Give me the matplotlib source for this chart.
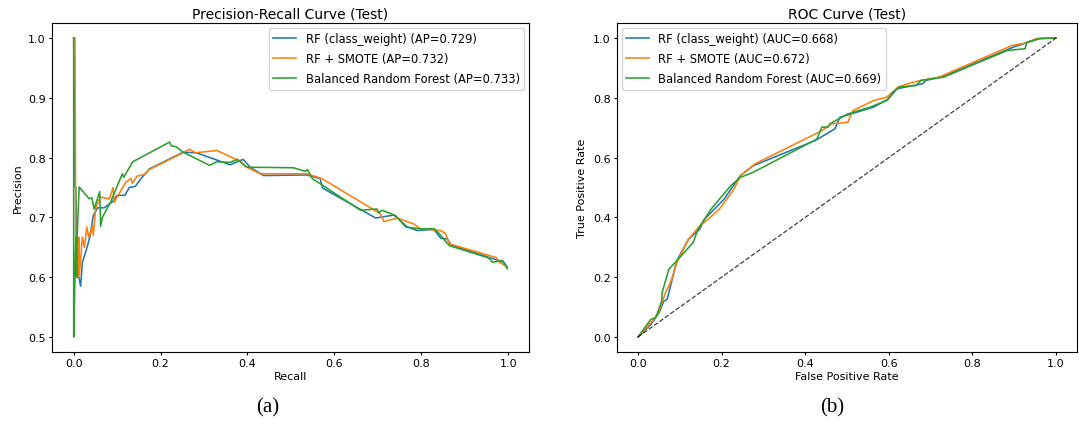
import numpy as np
import matplotlib
matplotlib.use("Agg")
import matplotlib.pyplot as plt

# Precision-recall points (recall, precision) for each model
pr_rf_recall = [0.0, 0.003, 0.005, 0.008, 0.012, 0.016, 0.020, 0.025, 0.032, 0.038, 0.045, 0.055,
                0.070, 0.089, 0.100, 0.118, 0.128, 0.142, 0.155, 0.174, 0.252, 0.283, 0.321, 0.360,
                0.390, 0.406, 0.437, 0.536, 0.567, 0.573, 0.695, 0.737, 0.768, 0.791, 0.829, 0.845,
                0.860, 0.868, 0.990, 0.998]
pr_rf_prec = [1.0, 0.75, 0.75, 0.60, 0.60, 0.585, 0.625, 0.636, 0.653, 0.670, 0.703, 0.716,
              0.716, 0.726, 0.737, 0.737, 0.750, 0.752, 0.765, 0.781, 0.809, 0.808, 0.798, 0.788,
              0.797, 0.784, 0.770, 0.771, 0.765, 0.749, 0.699, 0.704, 0.684, 0.678, 0.680, 0.665,
              0.664, 0.654, 0.625, 0.617]

pr_smote_recall = [0.0, 0.003, 0.005, 0.010, 0.0125, 0.013, 0.020, 0.025, 0.030, 0.035, 0.043,
                   0.045, 0.051, 0.062, 0.082, 0.091, 0.093, 0.120, 0.132, 0.135, 0.146, 0.163,
                   0.174, 0.252, 0.267, 0.280, 0.306, 0.329, 0.383, 0.398, 0.429, 0.536, 0.571,
                   0.706, 0.714, 0.745, 0.783, 0.798, 0.845, 0.856, 0.864, 0.972, 0.980, 0.998]
pr_smote_prec = [1.0, 1.0, 0.62, 0.60, 0.667, 0.603, 0.667, 0.650, 0.684, 0.667, 0.686,
                 0.670, 0.717, 0.734, 0.731, 0.750, 0.725, 0.759, 0.765, 0.757, 0.769, 0.772,
                 0.780, 0.808, 0.814, 0.808, 0.810, 0.812, 0.794, 0.784, 0.773, 0.773, 0.765,
                 0.706, 0.693, 0.699, 0.689, 0.681, 0.678, 0.673, 0.656, 0.633, 0.625, 0.617]

pr_brf_recall = [0.0, 0.0, 0.003, 0.005, 0.007, 0.008, 0.0125, 0.036, 0.042, 0.047, 0.060, 0.062,
                 0.066, 0.085, 0.112, 0.115, 0.136, 0.221, 0.224, 0.236, 0.252, 0.313, 0.329,
                 0.360, 0.377, 0.398, 0.506, 0.533, 0.538, 0.549, 0.660, 0.698, 0.702, 0.710,
                 0.741, 0.764, 0.798, 0.829, 0.840, 0.864, 0.956, 0.964, 0.987, 0.998]
pr_brf_prec = [1.0, 0.50, 0.60, 0.667, 0.60, 0.667, 0.751, 0.731, 0.733, 0.714, 0.743, 0.685,
               0.700, 0.726, 0.773, 0.767, 0.793, 0.826, 0.820, 0.818, 0.809, 0.787, 0.793,
               0.792, 0.797, 0.784, 0.783, 0.777, 0.780, 0.765, 0.712, 0.714, 0.708, 0.712,
               0.703, 0.684, 0.681, 0.681, 0.674, 0.653, 0.632, 0.625, 0.628, 0.614]

# ROC points (false positive rate, true positive rate)
roc_rf_fpr = [0.0, 0.031, 0.051, 0.062, 0.070, 0.075, 0.093, 0.121, 0.148, 0.159, 0.191, 0.206,
              0.245, 0.276, 0.424, 0.471, 0.483, 0.510, 0.564, 0.599, 0.619, 0.681, 0.689,
              0.731, 0.899, 0.961, 1.0]
roc_rf_tpr = [0.0, 0.042, 0.082, 0.120, 0.126, 0.154, 0.255, 0.327, 0.361, 0.394, 0.439, 0.461,
              0.540, 0.573, 0.657, 0.696, 0.735, 0.746, 0.769, 0.796, 0.830, 0.847, 0.858,
              0.872, 0.970, 0.998, 1.0]

roc_smote_fpr = [0.0, 0.035, 0.051, 0.066, 0.078, 0.093, 0.121, 0.148, 0.168, 0.195, 0.230, 0.245,
                 0.280, 0.440, 0.463, 0.502, 0.514, 0.564, 0.595, 0.622, 0.658, 0.677, 0.720,
                 0.895, 0.930, 0.953, 1.0]
roc_smote_tpr = [0.0, 0.054, 0.087, 0.149, 0.182, 0.249, 0.327, 0.372, 0.394, 0.428, 0.495, 0.540,
                 0.579, 0.690, 0.713, 0.718, 0.757, 0.791, 0.802, 0.836, 0.852, 0.858, 0.869,
                 0.975, 0.984, 0.998, 1.0]

roc_brf_fpr = [0.0, 0.031, 0.043, 0.057, 0.058, 0.074, 0.093, 0.132, 0.144, 0.175, 0.222, 0.245,
               0.276, 0.428, 0.440, 0.455, 0.459, 0.502, 0.556, 0.595, 0.611, 0.626, 0.665,
               0.677, 0.731, 0.883, 0.926, 0.930, 0.961, 1.0]
roc_brf_tpr = [0.0, 0.059, 0.065, 0.121, 0.149, 0.227, 0.255, 0.316, 0.361, 0.428, 0.506, 0.534,
               0.551, 0.662, 0.702, 0.702, 0.713, 0.746, 0.769, 0.791, 0.819, 0.836, 0.841,
               0.858, 0.869, 0.958, 0.964, 0.986, 0.998, 1.0]

models = ["RF (class_weight)", "RF + SMOTE", "Balanced Random Forest"]
ap_scores = [0.729, 0.732, 0.733]
auc_scores = [0.668, 0.672, 0.669]

fs = 8.0
legend_fs = 8.3
lw = 1.15

fig = plt.figure(figsize=(10.79, 4.27), dpi=100)
ax1 = fig.add_axes([52 / 1079, 1 - 353 / 427, 477 / 1079, 329 / 427])
ax2 = fig.add_axes([617 / 1079, 1 - 353 / 427, 460 / 1079, 329 / 427])

# Precision-recall panel
pr_data = [(pr_rf_recall, pr_rf_prec), (pr_smote_recall, pr_smote_prec),
           (pr_brf_recall, pr_brf_prec)]
for (r, p), name, ap in zip(pr_data, models, ap_scores):
    ax1.plot(r, p, lw=lw, label=f"{name} (AP={ap:.3f})")
ax1.set_title("Precision-Recall Curve (Test)", fontsize=10, pad=4)
ax1.set_xlabel("Recall", fontsize=fs, labelpad=2)
ax1.set_ylabel("Precision", fontsize=fs, labelpad=4)
ax1.set_yticks([0.5, 0.6, 0.7, 0.8, 0.9, 1.0])
ax1.legend(fontsize=legend_fs, loc="upper right", handlelength=2.0,
           labelspacing=0.6, borderaxespad=0.4)

# ROC panel
roc_data = [(roc_rf_fpr, roc_rf_tpr), (roc_smote_fpr, roc_smote_tpr),
            (roc_brf_fpr, roc_brf_tpr)]
for (f, t), name, auc in zip(roc_data, models, auc_scores):
    ax2.plot(f, t, lw=lw, label=f"{name} (AUC={auc:.3f})")
ax2.plot([0, 1], [0, 1], "k--", lw=0.9, alpha=0.75)
ax2.set_title("ROC Curve (Test)", fontsize=10, pad=4)
ax2.set_xlabel("False Positive Rate", fontsize=fs, labelpad=2)
ax2.set_ylabel("True Positive Rate", fontsize=fs, labelpad=4)
ax2.legend(fontsize=legend_fs, loc="upper left", handlelength=2.0,
           labelspacing=0.6, borderaxespad=0.4)

for ax in (ax1, ax2):
    ax.tick_params(labelsize=fs, length=2.5, pad=2)
    for s in ax.spines.values():
        s.set_linewidth(0.8)

# Panel captions
fig.text(268 / 1079, 1 - 408 / 427, "(a)", ha="center", va="center",
         fontsize=15, family="Liberation Serif")
fig.text(832 / 1079, 1 - 408 / 427, "(b)", ha="center", va="center",
         fontsize=15, family="Liberation Serif")

fig.savefig("out.png", dpi=100)
